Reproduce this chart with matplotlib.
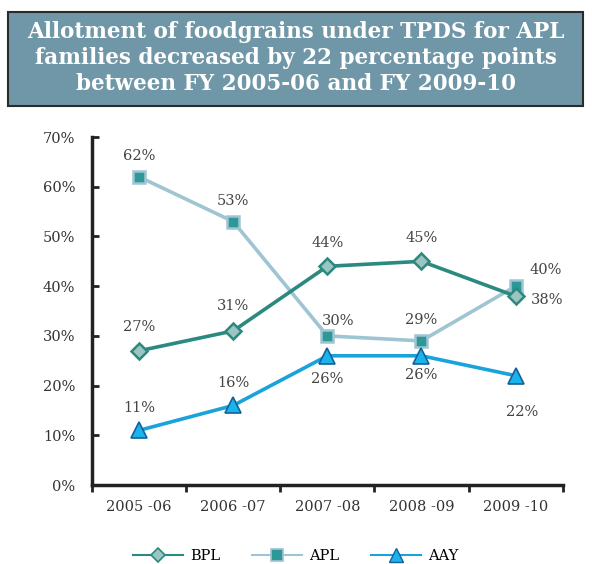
import numpy as np
import matplotlib.pyplot as plt
from matplotlib.patches import FancyBboxPatch
from matplotlib.lines import Line2D

plt.rcParams['font.family'] = 'DejaVu Serif'

# Data
years = ['2005 -06', '2006 -07', '2007 -08', '2008 -09', '2009 -10']
bpl = [27, 31, 44, 45, 38]
apl = [62, 53, 30, 29, 40]
aay = [11, 16, 26, 26, 22]
yticks = [0, 10, 20, 30, 40, 50, 60, 70]

# label offsets in points (dx, dy)
bpl_off = [(0, 17), (0, 18), (0, 17), (0, 17), (23, -3)]
apl_off = [(0, 15), (0, 15), (8, 11), (0, 15), (22, 12)]
aay_off = [(0, 16), (0, 16), (0, -17), (0, -14), (5, -26)]

fig = plt.figure(figsize=(5.92, 5.64), dpi=100)

# Title box
box = FancyBboxPatch((0.014, 0.812), 0.970, 0.167, boxstyle='square,pad=0',
                     transform=fig.transFigure, facecolor='#6f97a8',
                     edgecolor='#2b2b2b', linewidth=1.5)
fig.patches.append(box)
fig.text(0.5, 0.897, 'Allotment of foodgrains under TPDS for APL\n'
         'families decreased by 22 percentage points\n'
         'between FY 2005-06 and FY 2009-10',
         ha='center', va='center', color='white', fontsize=15.5,
         fontweight='bold', linespacing=1.25)

ax = fig.add_axes([0.1554, 0.140, 0.795, 0.617])
x = np.arange(len(years))

ax.plot(x, bpl, color='#2a8a80', lw=2.6, marker='D', ms=8,
        mfc='#9cc4c2', mec='#2a8a80', mew=1.8, zorder=3)
ax.plot(x, apl, color='#9fc4d2', lw=2.6, marker='s', ms=8,
        mfc='#2e9898', mec='#9fc4d2', mew=1.8, zorder=2)
ax.plot(x, aay, color='#1aa2da', lw=2.6, marker='^', ms=11,
        mfc='#1ab4ec', mec='#15609a', mew=1.2, zorder=4)

for series, offs in [(bpl, bpl_off), (apl, apl_off), (aay, aay_off)]:
    for xi, v, (dx, dy) in zip(x, series, offs):
        ax.annotate(f'{v}%', (xi, v), xytext=(dx, dy), textcoords='offset points',
                    ha='center', va='center', fontsize=10.5, color='#444444')

ax.set_xlim(-0.5, len(years) - 0.5)
ax.set_ylim(0, 70)
ax.set_yticks(yticks)
ax.set_yticklabels([f'{t}%' for t in yticks], fontsize=10.5, color='#333333')
ax.set_xticks(x)
ax.set_xticklabels(years, fontsize=10.5, color='#333333')
ax.set_xticks(np.arange(len(years) + 1) - 0.5, minor=True)
ax.tick_params(axis='x', which='major', length=0, pad=11)
ax.tick_params(axis='x', which='minor', length=5, width=2, color='#222222', direction='out')
ax.tick_params(axis='y', length=5, width=2, color='#222222', direction='in', pad=12)
for s in ['top', 'right']:
    ax.spines[s].set_visible(False)
for s in ['left', 'bottom']:
    ax.spines[s].set_linewidth(2.5)
    ax.spines[s].set_color('#222222')

handles = [
    Line2D([0], [0], color='#2a8a80', lw=1.5, marker='D', ms=7,
           mfc='#9cc4c2', mec='#2a8a80', mew=1.2, label='BPL'),
    Line2D([0], [0], color='#9fc4d2', lw=1.5, marker='s', ms=8,
           mfc='#2e9898', mec='#9fc4d2', mew=1.2, label='APL'),
    Line2D([0], [0], color='#1aa2da', lw=1.5, marker='^', ms=10,
           mfc='#1ab4ec', mec='#15609a', mew=1.0, label='AAY'),
]
fig.legend(handles=handles, loc='lower center', bbox_to_anchor=(0.5, -0.022), ncol=3,
           frameon=False, fontsize=10.5, handlelength=3.4, columnspacing=2.2,
           handletextpad=0.5)

fig.savefig('out.png', dpi=100)
